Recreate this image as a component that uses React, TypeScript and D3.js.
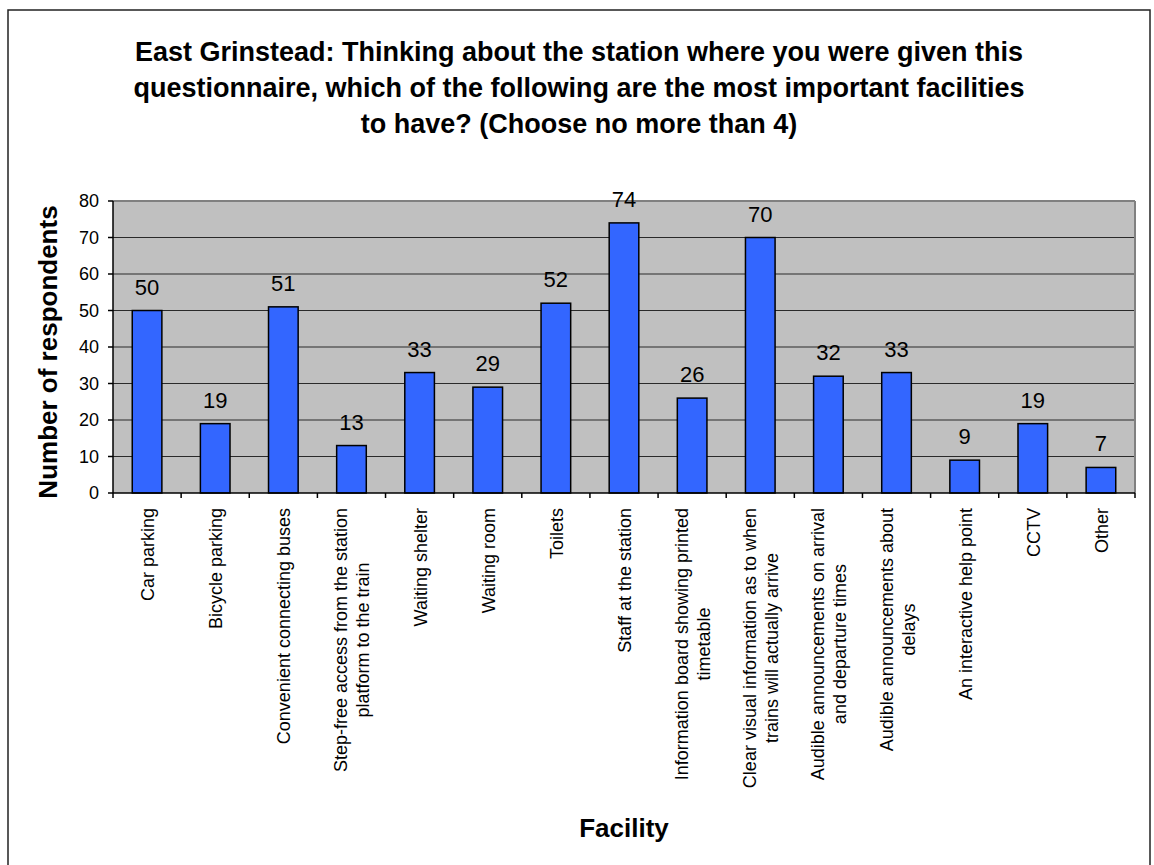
import React from "react";
import * as d3 from "d3";

const titleLines = [
  "East Grinstead: Thinking about the station where you were given this",
  "questionnaire, which of the following are the most important facilities",
  "to have? (Choose no more than 4)",
];

const categories: string[][] = [
  ["Car parking"],
  ["Bicycle parking"],
  ["Convenient connecting buses"],
  ["Step-free access from the station", "platform to the train"],
  ["Waiting shelter"],
  ["Waiting room"],
  ["Toilets"],
  ["Staff at the station"],
  ["Information board showing printed", "timetable"],
  ["Clear visual information as to when", "trains will actually arrive"],
  ["Audible announcements on arrival", "and departure times"],
  ["Audible announcements about", "delays"],
  ["An interactive help point"],
  ["CCTV"],
  ["Other"],
];

const values = [50, 19, 51, 13, 33, 29, 52, 74, 26, 70, 32, 33, 9, 19, 7];

const yTicks = [0, 10, 20, 30, 40, 50, 60, 70, 80];

const yAxisTitle = "Number of respondents";
const xAxisTitle = "Facility";

const FONT = "'Liberation Sans', Arial, Helvetica, sans-serif";

let measureCtx: CanvasRenderingContext2D | null = null;
function measure(text: string, font: string): number {
  if (!measureCtx) {
    const c = document.createElement("canvas");
    measureCtx = c.getContext("2d");
  }
  if (!measureCtx) return text.length * 9;
  measureCtx.font = font;
  return measureCtx.measureText(text).width;
}

export default function App() {
  const W = 1154;
  const H = 865;
  const plot = { left: 113, right: 1135, top: 201, bottom: 493 };

  const keys = categories.map((_, i) => String(i));
  const x = d3.scaleBand<string>().domain(keys).range([plot.left, plot.right]).paddingInner(0).paddingOuter(0);
  const y = d3.scaleLinear().domain([0, 80]).range([plot.bottom, plot.top]);
  const bw = x.bandwidth() / 2.3;

  const labelFont = `18px ${FONT}`;
  const boundaries = keys.map((k) => x(k) as number).concat([plot.right]);

  return (
    <svg
      width={W}
      height={H}
      style={{ position: "absolute", left: 0, top: 0, background: "#fff" }}
      fontFamily={FONT}
    >
      <rect x={0} y={0} width={W} height={H} fill="#ffffff" />
      <rect x={8} y={10} width={1142} height={870} fill="#ffffff" stroke="#222" strokeWidth={1.5} />

      {titleLines.map((t, i) => (
        <text
          key={i}
          x={579}
          y={61 + i * 36}
          textAnchor="middle"
          fontSize={27}
          fontWeight="bold"
          fill="#000"
        >
          {t}
        </text>
      ))}

      {/* plot background */}
      <rect
        x={plot.left}
        y={plot.top}
        width={plot.right - plot.left}
        height={plot.bottom - plot.top}
        fill="#C0C0C0"
      />
      {/* gridlines */}
      {yTicks.slice(1, -1).map((t) => (
        <line key={t} x1={plot.left} x2={plot.right} y1={y(t)} y2={y(t)} stroke="#2a2a2a" strokeWidth={1} />
      ))}
      {/* plot border top & right */}
      <line x1={plot.left} x2={plot.right} y1={plot.top} y2={plot.top} stroke="#808080" strokeWidth={2} />
      <line x1={plot.right} x2={plot.right} y1={plot.top} y2={plot.bottom} stroke="#808080" strokeWidth={2} />

      {/* bars */}
      {values.map((v, i) => {
        const cx = (x(String(i)) as number) + x.bandwidth() / 2;
        return (
          <g key={i}>
            <rect
              x={cx - bw / 2}
              y={y(v)}
              width={bw}
              height={y(0) - y(v)}
              fill="#3366FF"
              stroke="#000"
              strokeWidth={1.5}
            />
            <text x={cx} y={y(v) - 16} textAnchor="middle" fontSize={22} fill="#000">
              {v}
            </text>
          </g>
        );
      })}

      {/* y axis */}
      <line x1={plot.left} x2={plot.left} y1={plot.top} y2={plot.bottom} stroke="#000" strokeWidth={1.5} />
      {yTicks.map((t) => (
        <g key={t}>
          <line x1={plot.left - 5} x2={plot.left} y1={y(t)} y2={y(t)} stroke="#000" strokeWidth={1.5} />
          <text x={99} y={y(t)} textAnchor="end" dominantBaseline="central" fontSize={18} fill="#000">
            {t}
          </text>
        </g>
      ))}

      {/* x axis */}
      <line x1={plot.left} x2={plot.right} y1={plot.bottom} y2={plot.bottom} stroke="#000" strokeWidth={1.5} />
      {boundaries.map((bx, i) => (
        <line key={i} x1={bx} x2={bx} y1={plot.bottom} y2={plot.bottom + 5} stroke="#000" strokeWidth={1.5} />
      ))}
      {categories.map((lines, i) => {
        const cx = (x(String(i)) as number) + x.bandwidth() / 2 + 1;
        const maxLen = Math.max(...lines.map((l) => measure(l, labelFont)));
        const cy = 508 + maxLen / 2;
        return (
          <g key={i}>
            {lines.map((l, j) => {
              const lx = cx + (j - (lines.length - 1) / 2) * 22;
              return (
                <text
                  key={j}
                  transform={`translate(${lx},${cy}) rotate(-90)`}
                  textAnchor="middle"
                  dominantBaseline="central"
                  fontSize={18}
                  fill="#000"
                >
                  {l}
                </text>
              );
            })}
          </g>
        );
      })}

      {/* axis titles */}
      <text
        transform={`translate(57,352) rotate(-90)`}
        textAnchor="middle"
        fontSize={26}
        fontWeight="bold"
        fill="#000"
      >
        {yAxisTitle}
      </text>
      <text x={624} y={837} textAnchor="middle" fontSize={26} fontWeight="bold" fill="#000">
        {xAxisTitle}
      </text>
    </svg>
  );
}
